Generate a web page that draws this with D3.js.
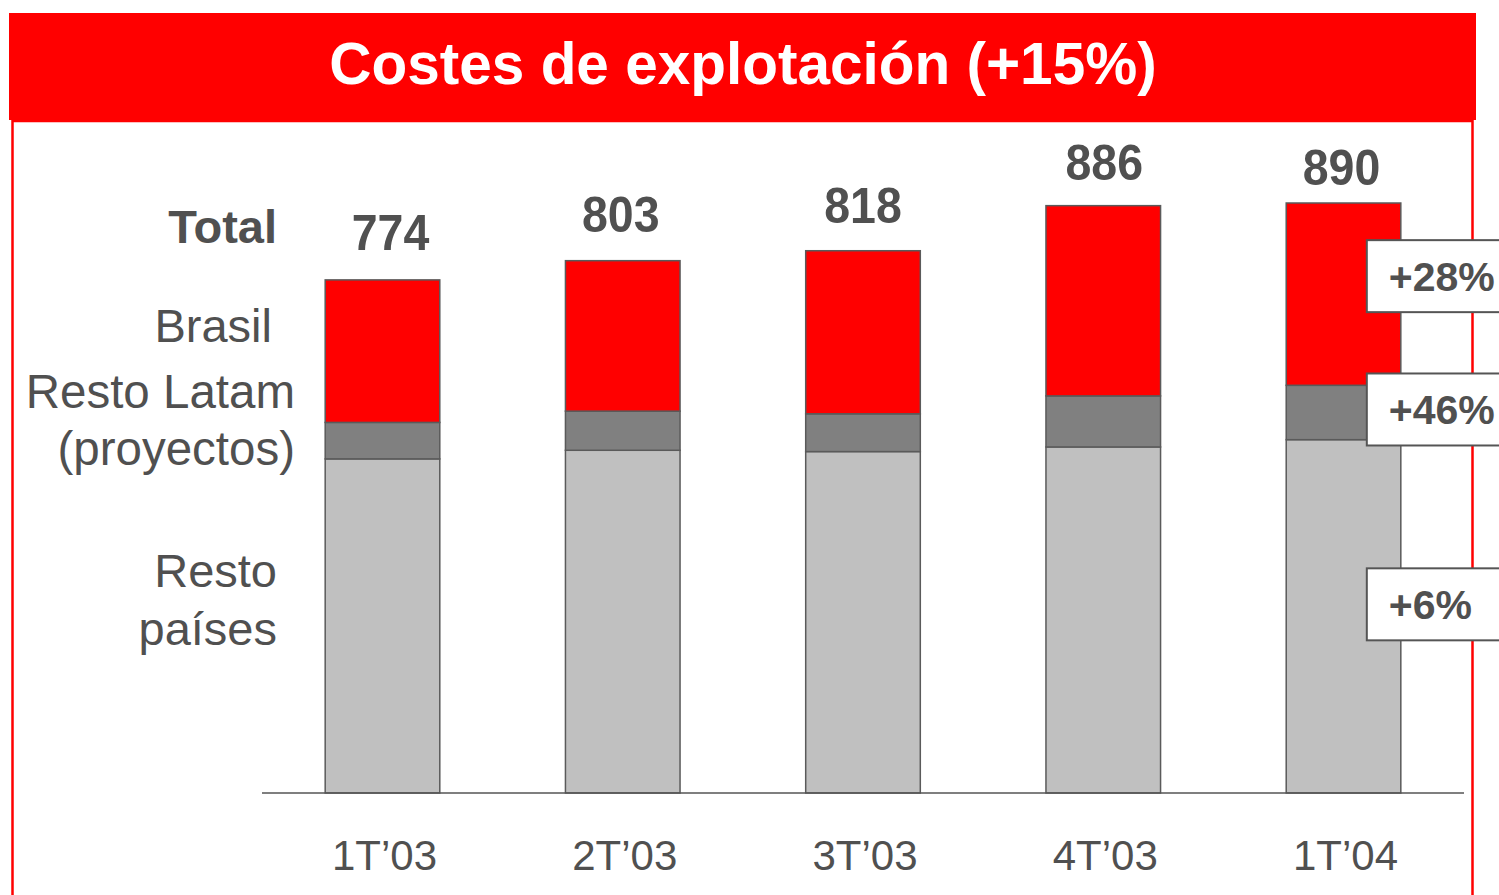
<!DOCTYPE html>
<html>
<head>
<meta charset="utf-8">
<script src="https://cdn.jsdelivr.net/npm/d3@7"></script>
<style>
  body { margin: 0; background: #fff; }
  svg { display: block; font-family: "Liberation Sans", Arial, sans-serif; }
</style>
</head>
<body>
<div id="chart"></div>
<script>
const width = 1499, height = 895;

const quarters = ["1T\u201903", "2T\u201903", "3T\u201903", "4T\u201903", "1T\u201904"];
const restoPaises = [504, 517, 515, 522, 533];
const restoLatam = [55, 59, 57, 77, 82];
const brasil = [215, 227, 246, 287, 275];
const totals = [774, 803, 818, 886, 890];
const seriesNames = ["Resto países", "Resto Latam", "Brasil"];
const growth = ["+6%", "+46%", "+28%"];
const title = "Costes de explotación (+15%)";

const colors = ["#c0c0c0", "#808080", "#ff0000"];
const textCol = "#505050";

const svg = d3.select("#chart").append("svg")
  .attr("width", width)
  .attr("height", height);

// title bar + red frame
svg.append("rect").attr("x", 9).attr("y", 13).attr("width", 1467).attr("height", 107).attr("fill", "#ff0000");
svg.append("path")
  .attr("d", "M12.5,121 H1472.5 M12.5,120 V895 M1472.5,120 V895")
  .attr("stroke", "#ff0000").attr("stroke-width", 2.5).attr("fill", "none");
svg.append("text")
  .attr("x", 743).attr("y", 84)
  .attr("text-anchor", "middle")
  .attr("fill", "#fff").attr("font-weight", "bold").attr("font-size", 58.5)
  .text(title);

const x = d3.scaleBand().domain(quarters).range([262, 1464]).paddingInner(0.523).paddingOuter(0.263);
const y = d3.scaleLinear().domain([0, 890]).range([793, 203]);

const rows = quarters.map((q, i) => ({q, resto: restoPaises[i], latam: restoLatam[i], brasil: brasil[i], total: totals[i]}));
const stack = d3.stack().keys(["resto", "latam", "brasil"])(rows);

svg.append("g").selectAll("g")
  .data(stack)
  .join("g")
  .attr("fill", (d, i) => colors[i])
  .selectAll("rect")
  .data(d => d)
  .join("rect")
  .attr("x", d => x(d.data.q))
  .attr("y", d => y(d[1]))
  .attr("width", x.bandwidth())
  .attr("height", d => y(d[0]) - y(d[1]))
  .attr("stroke", "#5a5a5a")
  .attr("stroke-width", 1.5);

// baseline
svg.append("line")
  .attr("x1", 262).attr("x2", 1464)
  .attr("y1", y(0)).attr("y2", y(0))
  .attr("stroke", "#555").attr("stroke-width", 1.5);

// category labels
svg.append("g").selectAll("text")
  .data(quarters)
  .join("text")
  .attr("x", d => x(d) + x.bandwidth() / 2 + 2)
  .attr("y", 870)
  .attr("text-anchor", "middle")
  .attr("fill", textCol).attr("font-size", 42)
  .text(d => d);

// totals (label placement nudges, px)
const totDx = [8, -2, 0, 1, -2];
const totDy = [-30, -29, -28, -26, -18];
svg.append("g").selectAll("text")
  .data(rows)
  .join("text")
  .attr("x", (d, i) => x(d.q) + x.bandwidth() / 2 + totDx[i])
  .attr("y", (d, i) => y(d.total) + totDy[i])
  .attr("text-anchor", "middle")
  .attr("fill", textCol).attr("font-weight", "bold").attr("font-size", 50)
  .text(d => d.total)
  .each(function() {
    const w = this.getComputedTextLength();
    d3.select(this).attr("textLength", w * 0.93).attr("lengthAdjust", "spacingAndGlyphs");
  });

// left side labels
const leftLabels = [
  {t: "Total", x: 277, y: 243, bold: true, size: 47},
  {t: "Brasil", x: 272, y: 342, size: 47},
  {t: "Resto Latam", x: 295, y: 408, size: 47.5},
  {t: "(proyectos)", x: 295, y: 465, size: 47.5},
  {t: "Resto", x: 277, y: 587, size: 47},
  {t: "países", x: 277, y: 645, size: 47}
];
svg.append("g").selectAll("text")
  .data(leftLabels)
  .join("text")
  .attr("x", d => d.x).attr("y", d => d.y)
  .attr("text-anchor", "end")
  .attr("fill", textCol)
  .attr("font-weight", d => d.bold ? "bold" : "normal")
  .attr("font-size", d => d.size)
  .text(d => d.t);

// growth boxes next to last bar
const last = quarters.length - 1;
const nudge = [-12, -3, -18];
const boxes = stack.map((s, i) => ({
  label: growth[i],
  cy: (y(s[last][0]) + y(s[last][1])) / 2 + nudge[i]
}));
const bx = x(quarters[last]) + x.bandwidth() - 34;
const bg = svg.append("g").selectAll("g")
  .data(boxes)
  .join("g")
  .attr("transform", d => `translate(${bx},${d.cy})`);
bg.append("rect")
  .attr("x", 0).attr("y", -36)
  .attr("width", 150).attr("height", 72)
  .attr("fill", "#fff").attr("stroke", "#555").attr("stroke-width", 2);
bg.append("text")
  .attr("x", 22).attr("y", 14.5)
  .attr("fill", textCol).attr("font-weight", "bold").attr("font-size", 41)
  .text(d => d.label);
</script>
</body>
</html>
